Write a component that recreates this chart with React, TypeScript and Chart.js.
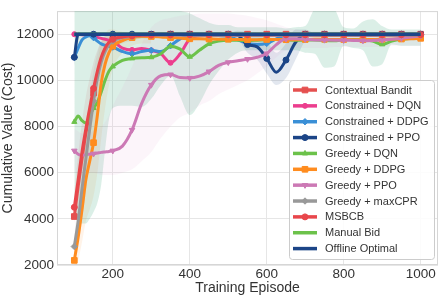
import React, { useEffect, useRef } from "react";
import { Chart, registerables } from "chart.js";
Chart.register(...registerables);

const episodes = [100,110,120,130,140,150,160,170,180,190,200,225,250,275,300,325,350,375,400,425,450,475,500,525,550,575,600,625,650,675,700,725,750,775,800,825,850,875,900,925,950,975,1000];

const xTicks = [200, 400, 600, 800, 1000];
const yTicks = [2000, 4000, 6000, 8000, 10000, 12000];

const contextualBandit = [4100,5400,6600,7700,8600,9450,10250,10900,11350,11620,11780,11900,11950,11970,11990,12000,12000,12000,12000,12000,12000,12000,12000,12000,12000,12000,12000,12000,12000,12000,12000,12000,12000,12000,12000,12000,12000,12000,12000,12000,12000,12000,12000];
const constrainedDqn = [12000,11990,11980,11960,11940,11900,11860,11820,11780,11740,11700,11400,11320,11380,11300,11150,10760,11150,11800,11930,11950,11950,11960,11960,11950,11950,11960,11960,11950,11950,11960,11960,11950,11950,11960,11960,11950,11950,11960,11960,11960,11960,11970];
const constrainedDdpg = [11000,11400,11750,11880,11930,11850,11700,11580,11520,11480,11440,11250,11150,11250,11300,11250,11500,11800,11930,11950,11950,11940,11900,11750,11600,11550,11600,11800,11950,11960,11960,11960,11950,11960,11960,11960,11950,11960,11960,11960,11960,11960,11980];
const constrainedPpo = [11000,12000,12000,12000,12000,12000,12000,12000,12000,12000,12000,12000,12000,12000,12000,12000,12000,12000,12000,12000,12000,12000,12000,11950,11550,11450,10950,10350,10880,11650,12000,12000,12000,12000,12000,12000,12000,12000,12000,12000,12000,12000,12000];
const greedyDqn = [8200,8450,8250,8150,8450,8800,9050,9500,10000,10400,10600,10870,10950,10980,11000,11150,11480,11350,11020,11300,11580,11700,11740,11740,11720,11740,11760,11770,11760,11740,11740,11750,11730,11720,11760,11770,11760,11700,11560,11700,11780,11820,11850];
const greedyDdpg = [2200,3200,4400,5700,6500,7300,8500,9900,10700,11200,11480,11720,11850,11900,11900,11880,11850,11830,11800,11800,11790,11780,11780,11770,11760,11760,11770,11770,11760,11760,11770,11780,11780,11770,11770,11760,11760,11770,11780,11780,11790,11800,11820];
const greedyPpo = [6950,6800,6750,6780,6800,6820,6850,6880,6900,6920,6950,7150,7850,9000,9800,10200,10250,10120,10100,10180,10380,10650,10780,10850,10920,11000,11160,11550,11800,11800,11780,11750,11750,11740,11740,11730,11720,11730,11750,11780,11820,11880,11930];
const greedyMaxCpr = [2800,3900,5300,6600,7900,9100,10100,10800,11250,11550,11700,11850,11900,11930,11950,11950,11950,11950,11950,11950,11950,11950,11950,11950,11950,11940,11950,11950,11950,11950,11950,11950,11950,11940,11950,11950,11950,11950,11950,11950,11950,11950,11960];
const msbcb = [4500,5700,6900,7900,8800,9650,10400,11000,11400,11650,11780,11880,11930,11950,11960,11970,11970,11980,11980,11980,11980,11980,11980,11980,11980,11980,11980,11980,11980,11980,11980,11980,11980,11980,11980,11980,11980,11980,11980,11980,11980,11980,11980];
const manualBid = [12000,12000,12000,12000,12000,12000,12000,12000,12000,12000,12000,12000,12000,12000,12000,12000,12000,12000,12000,12000,12000,12000,12000,12000,12000,12000,12000,12000,12000,12000,12000,12000,12000,12000,12000,12000,12000,12000,12000,12000,12000,12000,12000];
const offlineOptimal = [12000,12000,12000,12000,12000,12000,12000,12000,12000,12000,12000,12000,12000,12000,12000,12000,12000,12000,12000,12000,12000,12000,12000,12000,12000,12000,12000,12000,12000,12000,12000,12000,12000,12000,12000,12000,12000,12000,12000,12000,12000,12000,12000];

// confidence bands
const greedyDqnLow = [4500,3900,3800,3800,4000,4300,4700,5500,7000,8300,8800,8900,8900,8850,9200,9800,10200,9300,8500,9000,9800,10400,10900,11200,11300,11300,11300,11300,11300,11300,11200,11150,10550,10600,11500,11400,11300,10600,10700,11550,11500,11500,11500];
const greedyDqnHigh = [13300,13300,13300,13300,13300,13300,13300,13300,13300,13300,13300,13300,13300,13300,13300,13200,13100,13000,12900,12700,12500,12400,12400,12300,12300,12300,12300,12300,12250,12300,12350,13100,13200,13100,12300,12250,12550,12650,12350,12200,12200,12200,12200];
const greedyPpoLow = [6000,6000,6000,6000,6000,6000,5950,5900,5900,5900,5900,6000,6150,6500,6900,7500,8000,8400,8600,8900,9100,9400,9600,9800,10000,10300,10600,11000,11300,11400,11400,11400,11400,11450,11450,11450,11450,11450,11450,11500,11500,11500,11500];
const greedyPpoHigh = [7900,7800,7700,7700,7750,7800,7900,8000,8200,8500,8900,9700,10600,11600,12300,12600,12700,12800,12850,12900,12900,12900,12900,12850,12800,12700,12600,12450,12300,12200,12150,12150,12150,12150,12150,12150,12150,12150,12150,12150,12150,12150,12150];
const constrainedPpoLow = [10600,11800,11950,11950,11950,11950,11950,11950,11950,11950,11950,11950,11950,11950,11950,11950,11950,11950,11950,11950,11950,11950,11950,11800,11200,10900,10300,9800,10100,10900,11700,11950,11950,11950,11950,11950,11950,11950,11950,11950,11950,11950,11950];
const constrainedPpoHigh = [11400,12100,12050,12050,12050,12050,12050,12050,12050,12050,12050,12050,12050,12050,12050,12050,12050,12050,12050,12050,12050,12050,12050,12150,12100,12050,11700,11200,11600,12200,12200,12050,12050,12050,12050,12050,12050,12050,12050,12050,12050,12050,12050];
const greedyDdpgLow = [1700,2200,3000,3900,4400,5000,6000,7500,8800,9800,10500,11200,11500,11600,11600];
const greedyDdpgHigh = [2700,4200,5800,7500,8600,9600,10800,11600,12000,12200,12200,12100,12050,12000,12000];
const msbcbLow = [3800,4600,5600,6500,7500,8500,9500,10300,10900,11300,11500,11700,11800,11850,11850];
const msbcbHigh = [5200,6800,8200,9300,10100,10800,11300,11700,11900,12000,12050,12050,12050,12050,12050];
const greedyMaxCprLow = [2300,3000,4000,5200,6400,7700,8900,9900,10600,11100,11400,11600,11700,11800,11800];
const greedyMaxCprHigh = [3300,4900,6700,8000,9300,10400,11200,11700,11900,12000,12000,12050,12050,12050,12050];

const seriesNames = [
  "Contextual Bandit",
  "Constrained + DQN",
  "Constrained + DDPG",
  "Constrained + PPO",
  "Greedy + DQN",
  "Greedy + DDPG",
  "Greedy + PPO",
  "Greedy + maxCPR",
  "MSBCB",
  "Manual Bid",
  "Offline Optimal",
];

const FONT = '"Liberation Sans", Arial, Helvetica, sans-serif';

type Marker = "circle" | "rect" | "rectRot" | "triangle" | "triangleDown" | null;

const styles: { color: string; marker: Marker; r: number }[] = [
  { color: "#e5504f", marker: "rect", r: 4 },
  { color: "#ec3e8e", marker: "circle", r: 2.5 },
  { color: "#3a8fd6", marker: "rectRot", r: 3.2 },
  { color: "#1c4587", marker: "circle", r: 3 },
  { color: "#6cc24a", marker: "triangle", r: 3 },
  { color: "#ff8c1f", marker: "rect", r: 4 },
  { color: "#cc79b5", marker: "triangleDown", r: 3.2 },
  { color: "#999999", marker: "rectRot", r: 3.2 },
  { color: "#e8464b", marker: "circle", r: 3 },
  { color: "#6cc24a", marker: null, r: 0 },
  { color: "#1c4587", marker: null, r: 0 },
];

const seriesData = [
  contextualBandit, constrainedDqn, constrainedDdpg, constrainedPpo, greedyDqn,
  greedyDdpg, greedyPpo, greedyMaxCpr, msbcb, manualBid, offlineOptimal,
];

const toPts = (ys: number[]) => ys.map((y, i) => ({ x: episodes[i], y }));

function drawMarker(ctx: CanvasRenderingContext2D, m: Marker, x: number, y: number, r: number, color: string) {
  if (!m) return;
  ctx.save();
  ctx.fillStyle = color;
  ctx.strokeStyle = color;
  ctx.lineWidth = 1;
  ctx.beginPath();
  if (m === "circle") {
    ctx.arc(x, y, r, 0, Math.PI * 2);
  } else if (m === "rect") {
    const s = r * Math.SQRT1_2;
    ctx.rect(x - s, y - s, 2 * s, 2 * s);
  } else if (m === "rectRot") {
    ctx.moveTo(x, y - r); ctx.lineTo(x + r, y); ctx.lineTo(x, y + r); ctx.lineTo(x - r, y); ctx.closePath();
  } else if (m === "triangle") {
    ctx.moveTo(x, y - r); ctx.lineTo(x + r * 0.87, y + r * 0.5); ctx.lineTo(x - r * 0.87, y + r * 0.5); ctx.closePath();
  } else if (m === "triangleDown") {
    ctx.moveTo(x, y + r); ctx.lineTo(x + r * 0.87, y - r * 0.5); ctx.lineTo(x - r * 0.87, y - r * 0.5); ctx.closePath();
  }
  ctx.fill();
  ctx.stroke();
  ctx.restore();
}

const framePlugin = {
  id: "frame",
  beforeDatasetsDraw(chart: any) {
    const { ctx, chartArea: a } = chart;
    ctx.save();
    ctx.strokeStyle = "#d6d6d6";
    ctx.lineWidth = 1;
    ctx.strokeRect(a.left + 0.5, a.top + 0.5, a.right - a.left - 1, a.bottom - a.top - 1);
    ctx.restore();
  },
};

const legendPlugin = {
  id: "customLegend",
  afterDraw(chart: any) {
    const ctx: CanvasRenderingContext2D = chart.ctx;
    ctx.save();
    const x0 = 289.5, y0 = 80.5, w = 145, h = 179, rr = 3;
    ctx.beginPath();
    ctx.moveTo(x0 + rr, y0);
    ctx.lineTo(x0 + w - rr, y0);
    ctx.quadraticCurveTo(x0 + w, y0, x0 + w, y0 + rr);
    ctx.lineTo(x0 + w, y0 + h - rr);
    ctx.quadraticCurveTo(x0 + w, y0 + h, x0 + w - rr, y0 + h);
    ctx.lineTo(x0 + rr, y0 + h);
    ctx.quadraticCurveTo(x0, y0 + h, x0, y0 + h - rr);
    ctx.lineTo(x0, y0 + rr);
    ctx.quadraticCurveTo(x0, y0, x0 + rr, y0);
    ctx.closePath();
    ctx.fillStyle = "rgba(255,255,255,0.85)";
    ctx.fill();
    ctx.strokeStyle = "#cccccc";
    ctx.lineWidth = 1;
    ctx.stroke();
    ctx.font = `11px ${FONT}`;
    ctx.textBaseline = "middle";
    ctx.textAlign = "left";
    seriesNames.forEach((name, i) => {
      const y = 90 + i * 15.86;
      const st = styles[i];
      ctx.strokeStyle = st.color;
      ctx.lineWidth = 3.5;
      ctx.lineCap = "butt";
      ctx.beginPath();
      ctx.moveTo(293, y);
      ctx.lineTo(317, y);
      ctx.stroke();
      drawMarker(ctx, st.marker, 305, y, st.r, st.color);
      ctx.fillStyle = "#333333";
      ctx.fillText(name, 325, y + 0.5);
    });
    ctx.restore();
  },
};

export default function App() {
  const ref = useRef<HTMLCanvasElement | null>(null);
  useEffect(() => {
    if (!ref.current) return;
    const bands: [number[], number[], string][] = [
      [greedyPpoLow, greedyPpoHigh, "rgba(214,130,190,0.08)"],
      [greedyDqnLow, greedyDqnHigh, "rgba(40,160,115,0.17)"],
      [constrainedPpoLow, constrainedPpoHigh, "rgba(28,69,135,0.13)"],
      [greedyDdpgLow, greedyDdpgHigh, "rgba(255,140,31,0.10)"],
      [greedyMaxCprLow, greedyMaxCprHigh, "rgba(150,150,150,0.12)"],
      [msbcbLow, msbcbHigh, "rgba(232,70,75,0.10)"],
    ];
    const datasets: any[] = [];
    bands.forEach(([lo, hi, c]) => {
      datasets.push({
        data: toPts(lo), borderWidth: 0, borderColor: "rgba(0,0,0,0)", pointRadius: 0,
        fill: false, order: 100, cubicInterpolationMode: "monotone",
      });
      datasets.push({
        data: toPts(hi), borderWidth: 0, borderColor: "rgba(0,0,0,0)", pointRadius: 0,
        fill: "-1", backgroundColor: c, order: 100, cubicInterpolationMode: "monotone",
      });
    });
    seriesNames.forEach((name, i) => {
      const st = styles[i];
      datasets.push({
        label: name,
        data: toPts(seriesData[i]),
        borderColor: st.color,
        backgroundColor: st.color,
        borderWidth: i >= 9 ? 3.5 : 3,
        fill: false,
        order: 50 - i,
        cubicInterpolationMode: "monotone",
        pointStyle: st.marker === "triangleDown" ? "triangle" : st.marker || false,
        pointRotation: st.marker === "triangleDown" ? 180 : 0,
        pointRadius: (c: any) => (st.marker && episodes[c.dataIndex] % 50 === 0 ? st.r : 0),
        pointHoverRadius: 0,
        pointBorderWidth: 1,
        pointBorderColor: st.color,
        pointBackgroundColor: st.color,
      });
    });
    const chart = new Chart(ref.current, {
      type: "line",
      data: { datasets },
      options: {
        animation: false,
        responsive: false,
        devicePixelRatio: 1,
        layout: { padding: { top: 3, right: 3, left: 0, bottom: 0 } },
        plugins: { legend: { display: false }, tooltip: { enabled: false } },
        scales: {
          x: {
            type: "linear",
            min: 55,
            max: 1045,
            afterBuildTicks: (s: any) => { s.ticks = xTicks.map((v) => ({ value: v })); },
            afterFit: (s: any) => { s.height = 32; },
            grid: { color: "#e6e6e6", drawTicks: false, lineWidth: 1 },
            border: { display: false },
            ticks: { font: { size: 13.5, family: FONT }, color: "#333333", padding: 1, maxRotation: 0, callback: (v: any) => String(v) },
            title: { display: true, text: "Training Episode", font: { size: 14, family: FONT }, color: "#333333", padding: 0 },
          },
          y: {
            type: "linear",
            min: 2000,
            max: 13000,
            afterBuildTicks: (s: any) => { s.ticks = yTicks.map((v) => ({ value: v })); },
            afterFit: (s: any) => { s.width = 57; },
            grid: { color: "#e6e6e6", drawTicks: false, lineWidth: 1 },
            border: { display: false },
            ticks: { font: { size: 13.5, family: FONT }, color: "#333333", padding: 3, callback: (v: any) => String(v) },
            title: { display: true, text: "Cumulative Value (Cost)", font: { size: 14, family: FONT }, color: "#333333", padding: 0 },
          },
        },
      } as any,
      plugins: [framePlugin, legendPlugin],
    });
    return () => chart.destroy();
  }, []);
  return (
    <div style={{ position: "absolute", left: 0, top: 0, width: 443, height: 297, background: "#fff" }}>
      <canvas ref={ref} width={443} height={297} style={{ width: 443, height: 297, display: "block" }} />
    </div>
  );
}
